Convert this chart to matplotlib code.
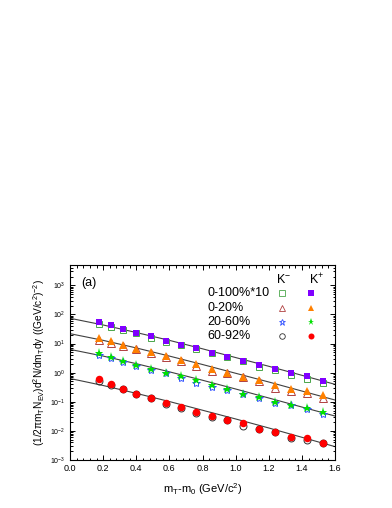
import numpy as np
import matplotlib
matplotlib.use('Agg')
import matplotlib.pyplot as plt
from matplotlib.ticker import MultipleLocator, LogLocator, NullFormatter

plt.rcParams['font.family'] = ['Liberation Sans', 'DejaVu Sans']
plt.rcParams['mathtext.default'] = 'regular'

# mT - m0 bins (GeV/c^2)
mt = [0.175, 0.25, 0.32, 0.40, 0.49, 0.58, 0.67, 0.76,
      0.855, 0.95, 1.045, 1.14, 1.24, 1.335, 1.43, 1.53]

# K+ spectra
kp_0_100 = [56, 45, 31, 24, 18, 12.2, 9.2, 6.9, 4.9, 3.4, 2.5, 1.78, 1.3, 1.0, 0.76, 0.53]
kp_0_20 = [16, 12.2, 8.7, 6.7, 5.1, 3.6, 2.7, 2.0, 1.3, 1.0, 0.73, 0.55, 0.37, 0.28, 0.23, 0.17]
kp_20_60 = [4.6, 3.4, 2.5, 1.8, 1.37, 1.0, 0.77, 0.56, 0.38, 0.27, 0.19, 0.145, 0.10, 0.077, 0.059, 0.044]
kp_60_92 = [0.59, 0.40, 0.28, 0.19, 0.13, 0.093, 0.066, 0.046, 0.032, 0.023, 0.019, 0.012,
            0.0094, 0.0063, 0.0055, 0.0039]

# K- spectra
km_0_100 = [46, 36, 30, 23, 16, 11.5, 8.8, 6.3, 4.8, 3.4, 2.5, 1.6, 1.25, 0.85, 0.62, 0.43]
km_0_20 = [13, 10.7, 8.3, 6.4, 4.9, 3.5, 2.6, 1.7, 1.13, 0.95, 0.70, 0.52, 0.30, 0.24, 0.20, 0.14]
km_20_60 = [4.0, 3.1, 2.4, 1.75, 1.2, 0.97, 0.67, 0.45, 0.33, 0.26, 0.185, 0.13, 0.093, 0.075, 0.057, 0.039]
km_60_92 = [0.51, 0.38, 0.27, 0.19, 0.13, 0.086, 0.063, 0.042, 0.031, 0.023, 0.015, 0.012,
            0.0094, 0.0059, 0.0048, 0.0038]

# fit curves
fit_x = [0.0, 0.2, 0.4, 0.6, 0.8, 1.0, 1.2, 1.4, 1.6]
fit_0_100 = [74, 43.6, 24.0, 12.9, 6.61, 3.31, 1.66, 0.813, 0.398]
fit_0_20 = [21.9, 12.9, 7.08, 3.72, 1.91, 0.955, 0.479, 0.234, 0.115]
fit_20_60 = [6.31, 3.72, 2.04, 1.07, 0.55, 0.275, 0.135, 0.066, 0.0324]
fit_60_92 = [0.631, 0.363, 0.195, 0.102, 0.0513, 0.0257, 0.0126, 0.00603, 0.00288]

labels = ['0-100%*10', '0-20%', '20-60%', '60-92%']

fig = plt.figure(figsize=(3.92, 5.08), dpi=100)
ax = fig.add_axes([0.1786, 0.0945, 0.676, 0.3838])

for f in [fit_0_100, fit_0_20, fit_20_60, fit_60_92]:
    ax.plot(fit_x, f, color='#404040', lw=0.8, zorder=1)

# open markers (K-) and filled markers (K+)
km_style = [dict(marker='s', mec='#4aa64a', ms=4.6),
            dict(marker='^', mec='#b04040', ms=5.2),
            dict(marker='*', mec='#3050ff', ms=6.0),
            dict(marker='o', mec='#303030', ms=5.0)]
kp_style = [dict(marker='s', color='#8000ff', ms=5.0),
            dict(marker='^', color='#ff8000', ms=5.6),
            dict(marker='*', color='#00e000', ms=6.6),
            dict(marker='o', color='#ff0000', ms=5.4)]

for y, st in zip([km_0_100, km_0_20, km_20_60, km_60_92], km_style):
    ax.plot(mt, y, ls='none', mfc='none', mew=0.7, zorder=2, **st)
for y, st in zip([kp_0_100, kp_0_20, kp_20_60, kp_60_92], kp_style):
    ax.plot(mt, y, ls='none', mew=0, zorder=3, **st)

ax.set_yscale('log')
ax.set_xlim(0, 1.6)
ax.set_ylim(1e-3, 5e3)
ax.xaxis.set_major_locator(MultipleLocator(0.2))
ax.xaxis.set_minor_locator(MultipleLocator(0.04))
ax.yaxis.set_major_locator(LogLocator(base=10, numticks=20))
ax.yaxis.set_minor_locator(LogLocator(base=10, subs=np.arange(2, 10), numticks=20))
ax.yaxis.set_minor_formatter(NullFormatter())
ax.tick_params(which='both', direction='in', top=True, right=True, width=0.7)
ax.tick_params(which='major', length=3.5)
ax.tick_params(which='minor', length=1.8)
ax.tick_params(axis='x', labelsize=6.5, pad=3)
ax.tick_params(axis='y', labelsize=5)
for s in ax.spines.values():
    s.set_linewidth(0.8)

ax.set_xlabel(r'$m_T$-$m_0$ (GeV/$c^2$)', fontsize=8, labelpad=6)
ax.set_ylabel(r'$(1/2\pi m_T N_{EV})d^2N/dm_Tdy\ ((GeV/c^2)^{-2})$', fontsize=7.3, labelpad=2)

# legend drawn by hand
ax.text(0.042, 0.908, '(a)', transform=ax.transAxes, fontsize=9, va='center')
ax.text(0.805, 0.925, r'K$^{-}$', transform=ax.transAxes, fontsize=9, ha='center', va='center')
ax.text(0.93, 0.925, r'K$^{+}$', transform=ax.transAxes, fontsize=9, ha='center', va='center')
rows_y = [0.854, 0.781, 0.709, 0.636]
for lab, yy, s1, s2 in zip(labels, rows_y, km_style, kp_style):
    ax.text(0.517, yy, lab, transform=ax.transAxes, fontsize=9, va='center')
    s1 = dict(s1, ms=s1['ms'] * 0.8)
    s2 = dict(s2, ms=s2['ms'] * 0.8)
    ax.plot([0.80], [yy], transform=ax.transAxes, ls='none', mfc='none', mew=0.6, **s1)
    ax.plot([0.91], [yy], transform=ax.transAxes, ls='none', mew=0, **s2)

fig.savefig('out.png', dpi=100)
